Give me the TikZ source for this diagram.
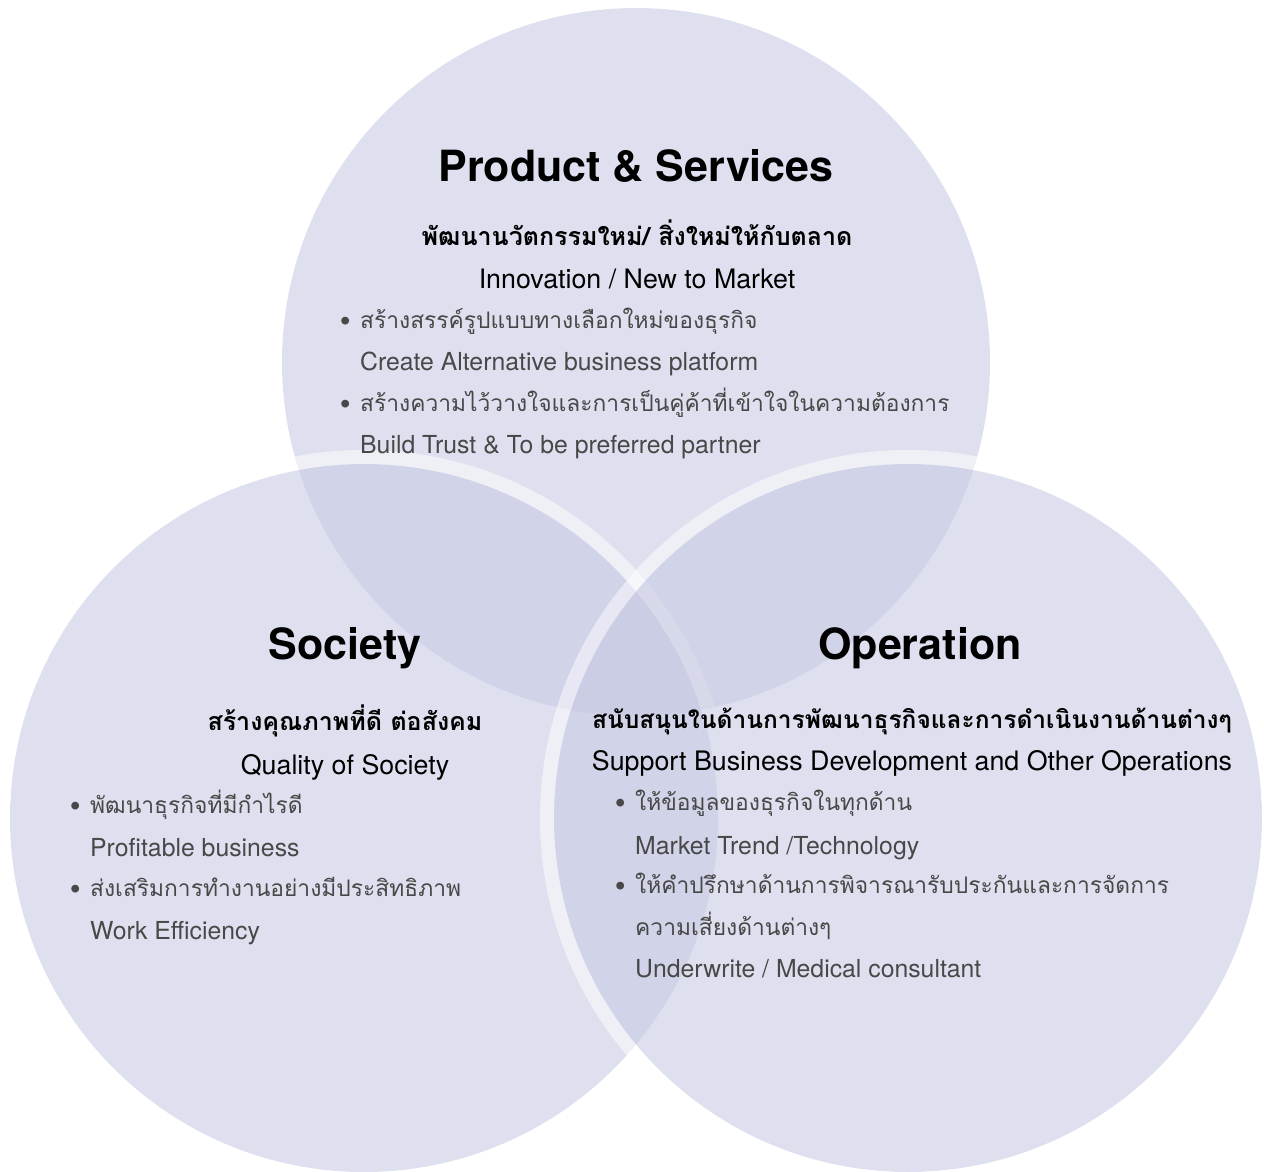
\documentclass[tikz,border=0pt]{standalone}
\usepackage{fontspec}
\setmainfont{TeX Gyre Heros}
\newfontfamily\thaifont[Script=Thai]{Loma}
\usepackage{tikz}
\usetikzlibrary{positioning}
\definecolor{vennfill}{RGB}{198,200,226}
\definecolor{bodygray}{RGB}{72,72,72}

\begin{document}
\begin{tikzpicture}[
        x=1pt, y=-1pt,
        venn/.style = {fill=vennfill, fill opacity=0.56},
        ring/.style = {draw=white, draw opacity=0.5, line width=14pt},
        headline/.style = {anchor=base, inner sep=0pt, font=\fontsize{43}{50}\selectfont\bfseries},
        subthai/.style = {anchor=base, inner sep=0pt, font=\fontsize{25}{30}\selectfont\thaifont\bfseries},
        subline/.style = {anchor=base, inner sep=0pt, font=\fontsize{26.8}{30}\selectfont},
        bulletthai/.style = {anchor=base west, inner sep=0pt, text=bodygray, font=\fontsize{22.8}{30}\selectfont\thaifont},
        bulletline/.style = {anchor=base west, inner sep=0pt, text=bodygray, font=\fontsize{24.8}{30}\selectfont}
    ]
        \useasboundingbox (0,0) rectangle (1264,1171);

        % Circles
        \path [venn] (636,362) circle [radius=354];
        \path [venn] (364,818) circle [radius=354];
        \begin{scope}
            \clip (0,0) rectangle (1264,800);
            \path [ring] (364,818) circle [radius=361];
        \end{scope}
        \path [venn] (908,818) circle [radius=354];
        \path [ring] (908,818) circle [radius=361];

        % Product & Services
        \node (product) [headline] at (636,181) {Product \& Services};
        \node (productth) [subthai] at (637,245) {พัฒนานวัตกรรมใหม่/ สิ่งใหม่ให้กับตลาด};
        \node (producten) [subline] at (637,288) {Innovation / New to Market};
        \node (platformth) [bulletthai] at (340,328) {\makebox[20pt][l]{\textbullet}สร้างสรรค์รูปแบบทางเลือกใหม่ของธุรกิจ};
        \node (platform) [bulletline] at (360,370) {Create Alternative business platform};
        \node (partnerth) [bulletthai] at (340,411) {\makebox[20pt][l]{\textbullet}สร้างความไว้วางใจและการเป็นคู่ค้าที่เข้าใจในความต้องการ};
        \node (partner) [bulletline] at (360,453) {Build Trust \& To be preferred partner};

        % Society
        \node (society) [headline] at (345,659) {Society};
        \node (societyth) [subthai] at (345,730) {สร้างคุณภาพที่ดี ต่อสังคม};
        \node (societyen) [subline] at (345,774) {Quality of Society};
        \node (profitth) [bulletthai] at (70,813) {\makebox[20pt][l]{\textbullet}พัฒนาธุรกิจที่มีกำไรดี};
        \node (profit) [bulletline] at (90,856) {Profitable business};
        \node (efficiencyth) [bulletthai] at (70,896) {\makebox[20pt][l]{\textbullet}ส่งเสริมการทำงานอย่างมีประสิทธิภาพ};
        \node (efficiency) [bulletline] at (90,939) {Work Efficiency};

        % Operation
        \node (operation) [headline] at (920,659) {Operation};
        \node (operationth) [subthai, font=\fontsize{24.5}{30}\selectfont\thaifont\bfseries] at (912,728) {สนับสนุนในด้านการพัฒนาธุรกิจและการดำเนินงานด้านต่างๆ};
        \node (operationen) [subline] at (912,770) {Support Business Development and Other Operations};
        \node (trendth) [bulletthai] at (615,810) {\makebox[20pt][l]{\textbullet}ให้ข้อมูลของธุรกิจในทุกด้าน};
        \node (trend) [bulletline] at (635,854) {Market Trend /Technology};
        \node (riskth) [bulletthai] at (615,893) {\makebox[20pt][l]{\textbullet}ให้คำปรึกษาด้านการพิจารณารับประกันและการจัดการ};
        \node (riskth2) [bulletthai] at (635,935) {ความเสี่ยงด้านต่างๆ};
        \node (underwrite) [bulletline] at (635,977) {Underwrite / Medical consultant};

    \end{tikzpicture}
\end{document}
